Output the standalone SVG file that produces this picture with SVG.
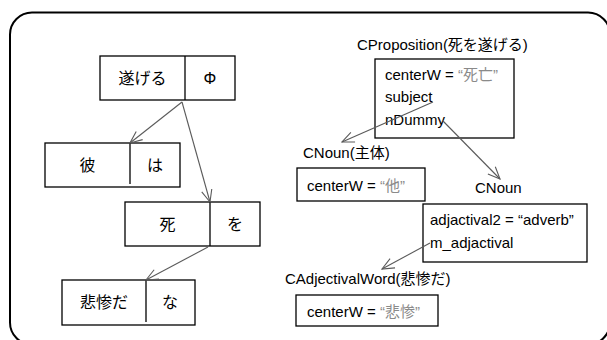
<svg xmlns="http://www.w3.org/2000/svg" width="607" height="340" viewBox="0 0 607 340">
<defs>
<marker id="ah" markerWidth="14" markerHeight="12" refX="13" refY="6" orient="auto" markerUnits="userSpaceOnUse">
<path d="M1,0.8 L13,6 L1,11.2" fill="none" stroke="#5a5a5a" stroke-width="1.1"/>
</marker>
<style>
text{font-family:"Liberation Sans","Noto Sans CJK JP",sans-serif;fill:#000}
.k{font-size:16px;text-anchor:middle}
.t{font-size:15px}
.g{fill:#8a8a8a}
.box{fill:#fff;stroke:#000;stroke-width:1.3}
.div{stroke:#000;stroke-width:1.3}
.ar{stroke:#5a5a5a;stroke-width:1.1;fill:none;marker-end:url(#ah)}
</style>
</defs>
<rect width="607" height="340" fill="#fff"/>
<rect x="10" y="12.5" width="600" height="332" rx="22" ry="22" fill="none" stroke="#000" stroke-width="2"/>
<g id="n-togeru">
<rect class="box" x="100" y="56" width="135" height="44"/>
<line class="div" x1="185" y1="56" x2="185" y2="100"/>
<text class="k" x="142.5" y="84">遂げる</text>
<text class="k" x="210" y="84">Φ</text>
</g>
<g id="n-kare">
<rect class="box" x="45" y="143" width="135" height="44"/>
<line class="div" x1="130" y1="143" x2="130" y2="184"/>
<text class="k" x="87.5" y="171">彼</text>
<text class="k" x="155" y="171">は</text>
</g>
<g id="n-shi">
<rect class="box" x="125" y="202" width="135" height="44"/>
<line class="div" x1="210" y1="202" x2="210" y2="246"/>
<text class="k" x="167.5" y="230">死</text>
<text class="k" x="235" y="230">を</text>
</g>
<g id="n-hisan">
<rect class="box" x="62" y="280" width="133" height="45"/>
<line class="div" x1="146" y1="280" x2="146" y2="322"/>
<text class="k" x="104" y="308">悲惨だ</text>
<text class="k" x="170" y="308">な</text>
</g>
<g id="n-cprop">
<text class="t" x="357" y="50">CProposition(死を遂げる)</text>
<rect class="box" x="375" y="59" width="139" height="79"/>
<text class="t" x="385" y="80">centerW = <tspan class="g">“死亡”</tspan></text>
<text class="t" x="385" y="102">subject</text>
<text class="t" x="385" y="125">nDummy</text>
</g>
<g id="n-cnoun1">
<text class="t" x="303" y="158">CNoun(主体)</text>
<rect class="box" x="297" y="168" width="128" height="33"/>
<text class="t" x="307" y="191">centerW = <tspan class="g">“他”</tspan></text>
</g>
<g id="n-cnoun2">
<text class="t" x="475" y="193">CNoun</text>
<rect class="box" x="423" y="204" width="164" height="58"/>
<text class="t" x="430" y="225">adjactival2 = “adverb”</text>
<text class="t" x="430" y="248">m_adjactival</text>
</g>
<g id="n-cadj">
<text class="t" x="285" y="284">CAdjectivalWord(悲惨だ)</text>
<rect class="box" x="296" y="295" width="142" height="31"/>
<text class="t" x="307" y="317">centerW = <tspan class="g">“悲惨”</tspan></text>
</g>
<g id="connectors">
<line class="ar" x1="182" y1="102" x2="130" y2="143"/>
<line class="ar" x1="182" y1="102" x2="210" y2="202"/>
<line class="ar" x1="208" y1="247" x2="146" y2="280"/>
<line class="ar" x1="433" y1="102" x2="342" y2="142"/>
<line class="ar" x1="443" y1="121" x2="500" y2="179"/>
<line class="ar" x1="430" y1="243" x2="382" y2="269"/>
</g>
</svg>
